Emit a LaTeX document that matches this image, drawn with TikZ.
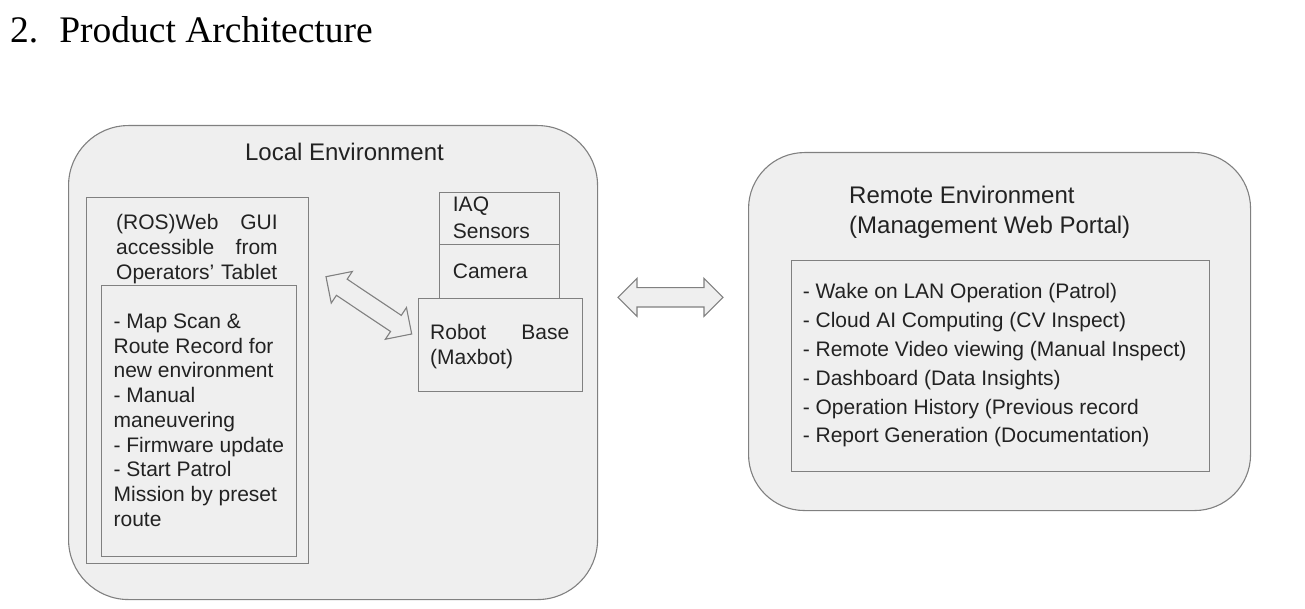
\documentclass[tikz,border=0pt]{standalone}
\usepackage{fontspec}
\setmainfont{Liberation Sans}
\newfontfamily\headfont{Liberation Serif}
\usepackage{xcolor}
\usetikzlibrary{positioning, calc}

\definecolor{boxfill}{HTML}{EFEFEF}
\definecolor{linegray}{HTML}{808080}
\definecolor{textgray}{HTML}{222222}

% hollow two-headed block arrow between two named points
\newcommand{\blockarrow}[2]{%
  \draw[blockarrow] (#1)
    -- ($(#1)!19pt!(#2)!19pt!90:(#2)$) -- ($(#1)!19pt!(#2)!9.7pt!90:(#2)$)
    -- ($(#2)!19pt!(#1)!9.7pt!-90:(#1)$) -- ($(#2)!19pt!(#1)!19pt!-90:(#1)$)
    -- (#2)
    -- ($(#2)!19pt!(#1)!19pt!90:(#1)$) -- ($(#2)!19pt!(#1)!9.7pt!90:(#1)$)
    -- ($(#1)!19pt!(#2)!9.7pt!-90:(#2)$) -- ($(#1)!19pt!(#2)!19pt!-90:(#2)$)
    -- cycle;}

\begin{document}
\begin{tikzpicture}[
    x=1pt, y=-1pt,
    envbox/.style={rectangle, draw=linegray, fill=boxfill, line width=1.1pt, rounded corners=60pt, inner sep=0pt, anchor=north west},
    partbox/.style={rectangle, draw=linegray, fill=boxfill, line width=1pt, inner sep=0pt, anchor=north west},
    body/.style={anchor=north west, inner sep=0pt, align=left, text=textgray, font=\fontsize{21}{24.75}\selectfont},
    heading/.style={inner sep=0pt, align=left, text=textgray, font=\fontsize{24}{30}\selectfont},
    blockarrow/.style={draw=linegray, fill=boxfill, line width=1.1pt, line join=miter}
]
\useasboundingbox (0,0) rectangle (1305,609);

\node[anchor=base west, inner sep=0pt, font=\headfont\fontsize{37.5}{40}\selectfont] (title) at (10,43) {2.\hspace{21pt}Product Architecture};

% local side
\node[envbox, minimum width=529pt, minimum height=474pt] (local) at (68,125) {};
\node[heading, anchor=north] (localtitle) at (344.5,143) {Local Environment};

\node[partbox, minimum width=222pt, minimum height=366pt] (gui) at (86,197) {};
\node[body, text width=161.5pt, font=\fontsize{21}{25}\selectfont] (guitext) at (116,214) {(ROS)Web\hfill GUI\\accessible\hfill from\\Operators’ Tablet};
\node[partbox, minimum width=195.5pt, minimum height=271pt] (tasks) at (100.5,285) {};
\node[body] (tasktext) at (113.4,313.5) {- Map Scan \&\\Route Record for\\new environment\\- Manual\\maneuvering\\- Firmware update\\- Start Patrol\\Mission by preset\\route};

\node[partbox, minimum width=120pt, minimum height=52pt] (iaq) at (439,192) {};
\node[body, font=\fontsize{21}{27}\selectfont] (iaqtext) at (452.7,196.5) {IAQ\\Sensors};
\node[partbox, minimum width=120pt, minimum height=54pt] (camera) at (439,244) {};
\node[body] (cameratext) at (452.7,263.5) {Camera};
\node[partbox, minimum width=164pt, minimum height=93pt] (robot) at (418,298) {};
\node[body, text width=139pt, font=\fontsize{21}{25}\selectfont] (robottext) at (430,324.5) {Robot\hfill Base\\(Maxbot)};

% remote side
\node[envbox, minimum width=502pt, minimum height=358pt, rounded corners=56pt] (remote) at (748,152) {};
\node[heading, anchor=north west] (remotetitle) at (849,186) {Remote Environment\\(Management Web Portal)};
\node[partbox, minimum width=418pt, minimum height=211pt] (features) at (791,260) {};
\node[body, font=\fontsize{21}{28.8}\selectfont] (featuretext) at (802.6,283.5) {- Wake on LAN Operation (Patrol)\\- Cloud AI Computing (CV Inspect)\\- Remote Video viewing (Manual Inspect)\\- Dashboard (Data Insights)\\- Operation History (Previous record\\- Report Generation (Documentation)};

% links
\coordinate (guiend) at (326,276.7);
\coordinate (robotend) at (411.7,334);
\coordinate (localend) at (618,297.3);
\coordinate (remoteend) at (723,297.3);
\blockarrow{guiend}{robotend}
\blockarrow{localend}{remoteend}
\end{tikzpicture}
\end{document}
